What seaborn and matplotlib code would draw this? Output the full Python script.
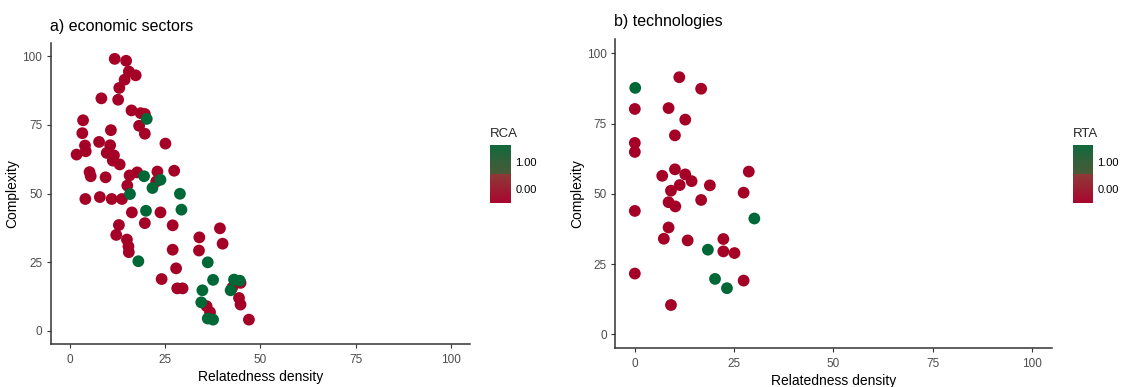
import matplotlib
matplotlib.use('Agg')

import matplotlib.pyplot as plt
import matplotlib.colors as mcolors
import matplotlib.cm as cm
import seaborn as sns
import pandas as pd

# a) economic sectors
sector_density = [11.8, 14.8, 15.5, 14.4, 17.3, 13.0, 12.7, 8.3, 16.2, 18.6, 19.7,
                  18.2, 19.7, 3.5, 3.3, 10.8, 25.1, 4.0, 4.2, 1.8, 7.7, 10.6, 9.7,
                  11.6, 11.3, 13.1, 5.2, 5.5, 9.4, 4.1, 7.9, 11.0, 13.7, 15.7, 15.1,
                  17.7, 23.0, 22.7, 27.4, 16.3, 23.8, 19.7, 12.9, 12.2, 15.0, 15.4,
                  15.5, 27.0, 27.0, 27.9, 24.1, 28.2, 29.6, 34.0, 33.9, 39.4, 40.1,
                  35.9, 36.8, 44.8, 42.6, 44.4, 44.8, 47.0,
                  20.2, 19.5, 21.7, 23.8, 15.8, 20.0, 28.9, 29.3, 18.0, 36.2, 37.6,
                  34.8, 34.5, 36.2, 37.6, 43.1, 44.6, 42.2]
sector_complexity = [99.1, 98.4, 94.5, 91.5, 93.1, 88.5, 84.2, 84.7, 80.3, 79.3, 79.0,
                     74.7, 71.8, 76.7, 72.0, 73.1, 68.2, 67.5, 65.4, 64.2, 68.8, 67.6, 64.8,
                     63.9, 62.0, 60.6, 57.8, 56.3, 55.9, 48.0, 48.7, 48.0, 48.0, 56.6, 52.9,
                     57.7, 58.0, 54.4, 58.3, 43.1, 43.1, 39.2, 38.5, 34.9, 33.2, 30.7,
                     28.6, 38.4, 29.5, 22.7, 18.8, 15.4, 15.4, 34.0, 29.2, 37.3, 31.7,
                     8.9, 6.7, 17.4, 15.6, 11.9, 9.5, 4.0,
                     77.2, 56.3, 52.0, 55.0, 49.8, 43.7, 49.9, 44.1, 25.3, 24.9, 18.5,
                     14.7, 10.3, 4.4, 4.0, 18.6, 18.2, 14.7]
sector_rca = [0] * 64 + [1] * 18

# b) technologies
tech_density = [0.0, 0.0, 0.0, 0.0, 0.0, 11.2, 16.7, 8.5, 12.7, 10.1, 6.9, 10.1,
                12.7, 14.3, 11.3, 9.1, 18.9, 28.7, 27.4, 16.7, 8.5, 10.2, 8.5, 7.3,
                13.3, 22.3, 22.3, 25.1, 27.4, 9.1,
                0.1, 30.1, 18.4, 20.2, 23.2]
tech_complexity = [80.2, 68.1, 64.9, 43.9, 21.6, 91.5, 87.4, 80.5, 76.4, 70.8, 56.4,
                   58.7, 56.9, 54.5, 53.1, 51.1, 53.0, 57.9, 50.4, 47.8, 47.0, 45.5,
                   38.0, 34.0, 33.4, 33.9, 29.5, 28.9, 19.1, 10.4,
                   87.7, 41.2, 30.1, 19.7, 16.4]
tech_rta = [0] * 30 + [1] * 5

ticks = [0, 25, 50, 75, 100]
tick_labels = ["0", "25", "50", "75", "100"]

red = "#A50026"
green = "#006837"

sns.set_style("white")
plt.rcParams['font.family'] = ['Liberation Sans', 'DejaVu Sans']

fig = plt.figure(figsize=(11.21, 3.87), dpi=100)

cmap = mcolors.LinearSegmentedColormap.from_list(
    "rca", [(0.0, "#A8062E"), (0.5, "#8E3A38"), (0.5, "#4A5A38"), (1.0, "#12693C")])
norm = mcolors.Normalize(vmin=-0.5, vmax=1.6)


def panel(rect, x, y, v, title, legend_title, cax_rect, title_xy):
    ax = fig.add_axes(rect)
    df = pd.DataFrame({"x": x, "y": y, "v": v})
    sns.scatterplot(data=df, x="x", y="y", hue="v", palette={0: red, 1: green},
                    s=72, linewidth=0, alpha=1, legend=False, ax=ax)
    ax.set_xlim(-5, 105)
    ax.set_ylim(-5, 105)
    ax.set_xticks(ticks)
    ax.set_xticklabels(tick_labels)
    ax.set_yticks(ticks)
    ax.set_yticklabels(tick_labels)
    ax.tick_params(axis="both", length=3, width=0.8, color="#333333",
                   labelcolor="#4D4D4D", labelsize=8.5, pad=3, direction="out",
                   bottom=True, left=True)
    ax.tick_params(axis="x", pad=4)
    ax.set_xlabel("Relatedness density", fontsize=10, color="black", labelpad=3)
    ax.set_ylabel("Complexity", fontsize=10, color="black", labelpad=2)
    sns.despine(ax=ax)
    for side in ["left", "bottom"]:
        ax.spines[side].set_color("#333333")
        ax.spines[side].set_linewidth(1.1)
    fig.text(title_xy[0] / 1121, 1 - title_xy[1] / 387, title,
             fontsize=11.5, color="black", va="baseline", ha="left")

    cax = fig.add_axes(cax_rect)
    cb = fig.colorbar(cm.ScalarMappable(norm=norm, cmap=cmap), cax=cax)
    cb.outline.set_visible(False)
    cb.set_ticks([0, 1])
    cb.set_ticklabels(["0.00", "1.00"])
    cax.tick_params(length=0, labelsize=8, pad=3, labelcolor="black")
    cax.set_title(legend_title, fontsize=9.5, loc="left", pad=6)
    return ax


panel([0.0452, 0.1103, 0.3741, 0.7794], sector_density, sector_complexity, sector_rca,
      "a) economic sectors", "RCA", [490 / 1121, 1 - 203 / 387, 21 / 1121, 58 / 387],
      (50, 31))
panel([0.5486, 0.1000, 0.3896, 0.7985], tech_density, tech_complexity, tech_rta,
      "b) technologies", "RTA", [1073 / 1121, 1 - 203 / 387, 20 / 1121, 58 / 387],
      (614, 26))

fig.savefig("out.png", dpi=100)
